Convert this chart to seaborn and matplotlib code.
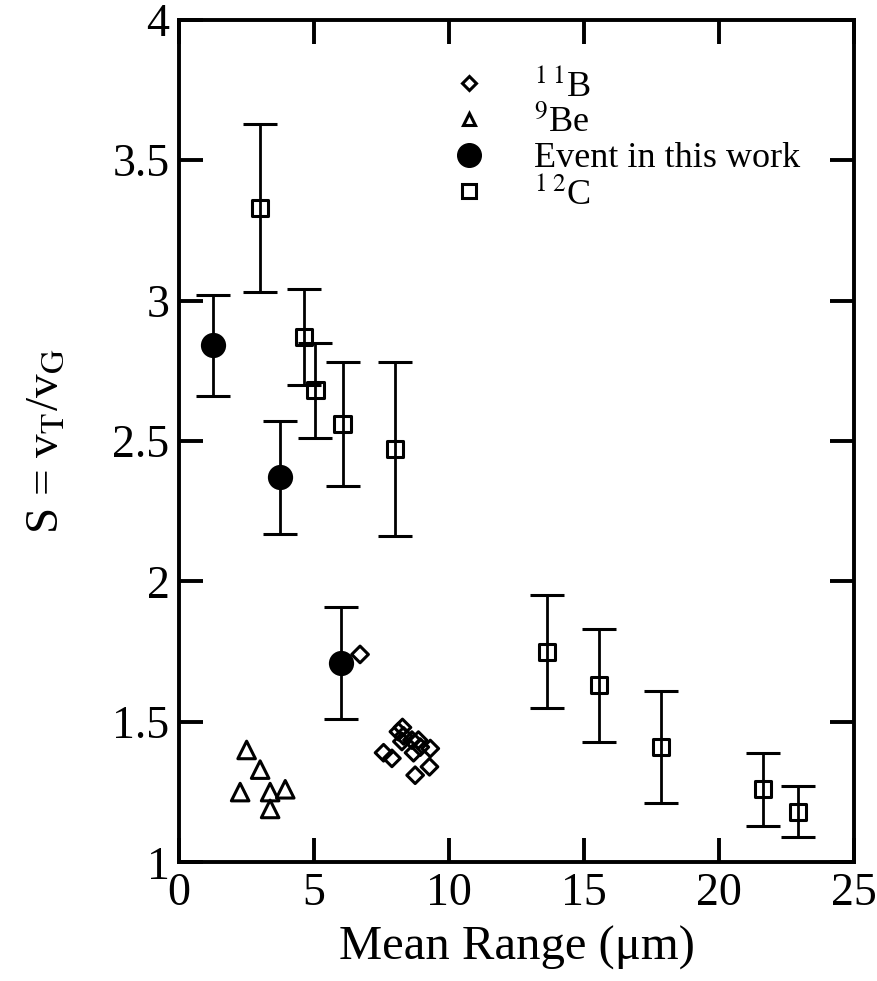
import numpy as np
import matplotlib
import matplotlib.pyplot as plt
import matplotlib.ticker as mticker
from matplotlib.lines import Line2D
import pandas as pd
import seaborn as sns

# 11B points
b11_x = [6.7, 8.27, 8.12, 8.31, 8.25, 8.62, 8.86, 8.93, 9.30, 7.57, 7.88, 9.27, 8.74, 8.68]
b11_y = [1.74, 1.48, 1.465, 1.45, 1.43, 1.435, 1.435, 1.41, 1.405, 1.39, 1.37, 1.34, 1.31, 1.39]

# 9Be points
be9_x = [2.5, 3.0, 2.26, 3.37, 3.93, 3.37]
be9_y = [1.40, 1.33, 1.25, 1.25, 1.26, 1.19]

# events in this work
ev_x = [1.26, 3.74, 5.99]
ev_y = [2.84, 2.37, 1.71]
ev_err = [0.18, 0.20, 0.20]

# 12C points
c12_x = [3.0, 4.63, 5.05, 6.05, 7.98, 13.62, 15.56, 17.85, 21.63, 22.9]
c12_y = [3.33, 2.87, 2.68, 2.56, 2.47, 1.75, 1.63, 1.41, 1.26, 1.18]
c12_err = [0.30, 0.17, 0.17, 0.22, 0.31, 0.20, 0.20, 0.20, 0.13, 0.09]

labels = [r"$^{1\;1}$B", r"$^{9}$Be", "Event in this work", r"$^{1\;2}$C"]

sns.set_style("ticks")
plt.rcParams['font.family'] = ['Liberation Serif', 'DejaVu Serif']
plt.rcParams['mathtext.fontset'] = 'stix'
for k in ['text.color', 'axes.labelcolor', 'xtick.color', 'ytick.color']:
    plt.rcParams[k] = 'black'

fig = plt.figure(figsize=(8.78, 9.81), dpi=100)
ax = fig.add_axes([0.204, 0.121, 0.769, 0.859])

ax.errorbar(c12_x, c12_y, yerr=c12_err, fmt='none', ecolor='black',
            elinewidth=2, capsize=12, capthick=2.2, zorder=2)
ax.errorbar(ev_x, ev_y, yerr=ev_err, fmt='none', ecolor='black',
            elinewidth=2, capsize=12, capthick=2.2, zorder=2)

sns.scatterplot(x=c12_x, y=c12_y, marker='s', s=135, facecolor='none',
                edgecolor='black', linewidth=2.2, ax=ax, zorder=3)
sns.scatterplot(x=ev_x, y=ev_y, marker='o', s=330, color='black',
                edgecolor='black', linewidth=0, ax=ax, zorder=3)
sns.scatterplot(x=b11_x, y=b11_y, marker='D', s=72, facecolor='none',
                edgecolor='black', linewidth=2.2, ax=ax, zorder=3)
sns.scatterplot(x=be9_x, y=be9_y, marker='^', s=160, facecolor='none',
                edgecolor='black', linewidth=2.2, ax=ax, zorder=3)

ax.set_xlim(0, 25)
ax.set_ylim(1, 4)
ax.xaxis.set_major_locator(mticker.MultipleLocator(5))
ax.yaxis.set_major_locator(mticker.MultipleLocator(0.5))
ax.yaxis.set_major_formatter(mticker.FormatStrFormatter('%g'))
ax.tick_params(direction='in', length=17.5, width=2.8, top=True, right=True,
               labelsize=33, pad=7)
for sp in ax.spines.values():
    sp.set_linewidth(2.8)
    sp.set_color('black')

ax.set_xlabel("Mean Range (\u03bcm)", fontsize=35, labelpad=8)
ax.set_ylabel(r"S = v$_{\mathrm{T}}$/v$_{\mathrm{G}}$", fontsize=34, labelpad=32)

handles = [
    Line2D([], [], ls='none', marker='D', ms=7, mfc='none', mec='black', mew=2.2),
    Line2D([], [], ls='none', marker='^', ms=9, mfc='none', mec='black', mew=2.2),
    Line2D([], [], ls='none', marker='o', ms=17, mfc='black', mec='black'),
    Line2D([], [], ls='none', marker='s', ms=10, mfc='none', mec='black', mew=2.2),
]
ax.legend(handles, labels, loc='upper left', bbox_to_anchor=(0.355, 0.98),
          frameon=False, fontsize=26, handletextpad=1.3, labelspacing=0.05,
          handlelength=1.0)

plt.savefig("out.png", dpi=100)
